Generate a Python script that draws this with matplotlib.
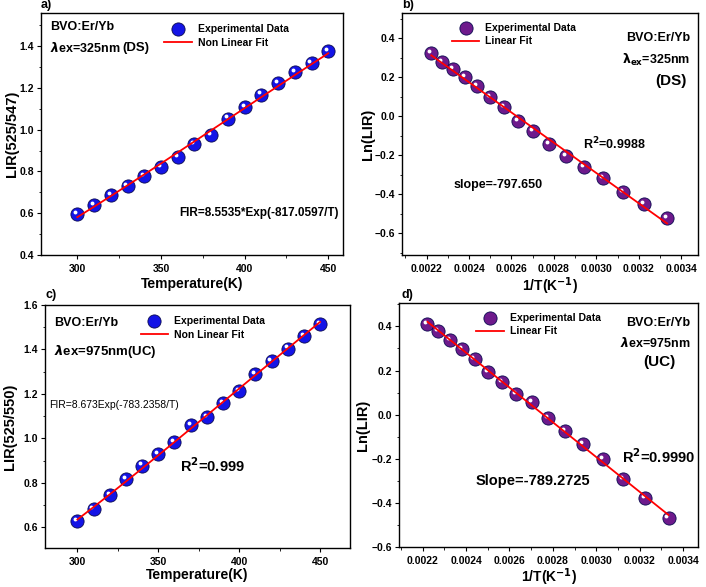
import numpy as np
import matplotlib
matplotlib.use('Agg')
import matplotlib.pyplot as plt
import matplotlib.transforms as mtransforms
from matplotlib.ticker import AutoMinorLocator, MultipleLocator

plt.rcParams['font.family'] = ['Liberation Sans', 'DejaVu Sans']
plt.rcParams['font.weight'] = 'bold'
plt.rcParams['axes.linewidth'] = 1.0

temps = [300, 310, 320, 330, 340, 350, 360, 370, 380, 390, 400, 410, 420, 430, 440, 450]
inv_t = [1.0 / t for t in temps]

# a) DS, LIR(525/547)
lir_ds = [0.596, 0.639, 0.685, 0.732, 0.777, 0.819, 0.870, 0.929, 0.976, 1.053, 1.106, 1.168, 1.223, 1.276, 1.319, 1.375]
# b) DS, ln(LIR), ordered by 1/T ascending (450 K first)
ln_ds = [0.323, 0.277, 0.243, 0.200, 0.156, 0.101, 0.050, -0.024, -0.075, -0.142, -0.202, -0.258, -0.315, -0.386, -0.451, -0.523]
# c) UC, LIR(525/550)
lir_uc = [0.628, 0.682, 0.747, 0.816, 0.878, 0.930, 0.985, 1.060, 1.095, 1.157, 1.214, 1.288, 1.348, 1.404, 1.462, 1.513]
# d) UC, ln(LIR)
ln_uc = [0.412, 0.380, 0.339, 0.297, 0.252, 0.194, 0.148, 0.092, 0.056, -0.014, -0.073, -0.133, -0.203, -0.294, -0.380, -0.468]

BLUE = '#1414e6'
PURPLE = '#6e1a8c'


def spheres(ax, x, y, color, label):
    ax.plot(x, y, 'o', ms=9.5, color=color, mec='#0a0a50', mew=0.6, zorder=3, label=label)
    off = mtransforms.ScaledTranslation(-1.5 / 72, 1.5 / 72, ax.figure.dpi_scale_trans)
    ax.plot(x, y, 'o', ms=2.8, color='white', mew=0, zorder=4, transform=ax.transData + off)


def style(ax, xlabel, ylabel, ylx, xpad=2):
    ax.set_xlabel(xlabel, fontsize=10, fontweight='bold', labelpad=xpad)
    ax.set_ylabel(ylabel, fontsize=10.5, fontweight='bold')
    ax.yaxis.set_label_coords(ylx, 0.5)
    ax.xaxis.set_minor_locator(AutoMinorLocator(2))
    ax.yaxis.set_minor_locator(AutoMinorLocator(2))
    ax.tick_params(which='major', direction='out', length=3, width=0.8, labelsize=7.5)
    ax.tick_params(axis='y', which='major', pad=2)
    ax.tick_params(which='minor', direction='out', length=1.8, width=0.6)
    for lab in ax.get_xticklabels() + ax.get_yticklabels():
        lab.set_fontweight('bold')


def legend(ax, loc):
    leg = ax.legend(loc='upper left', bbox_to_anchor=loc, frameon=False, fontsize=7.5,
                    handlelength=2.6, handletextpad=0.6, labelspacing=0.3, borderaxespad=0)
    return leg


fig = plt.figure(figsize=(7.06, 5.87), dpi=100)
W, H = 706, 587


def add_ax(l, t, r, b):
    return fig.add_axes([l / W, 1 - b / H, (r - l) / W, (b - t) / H])


# ---- a)
ax = add_ax(41, 13, 343, 255)
b_, a_ = np.polyfit(1 / np.array(temps), np.log(lir_ds), 1)
spheres(ax, temps, lir_ds, BLUE, 'Experimental Data')
ax.plot(temps, np.exp(a_ + b_ / np.array(temps)), color='red', lw=1.3, zorder=5, label='Non Linear Fit')
ax.set_xlim(278.3, 458.8)
ax.set_ylim(0.4, 1.558)
ax.xaxis.set_major_locator(MultipleLocator(50))
ax.yaxis.set_major_locator(MultipleLocator(0.2))
style(ax, 'Temperature(K)', 'LIR(525/547)', -0.073)
legend(ax, (0.395, 0.97))
ax.text(0.03, 0.942, 'BVO:Er/Yb', transform=ax.transAxes, fontsize=9, fontweight='bold', va='center')
ax.text(0.03, 0.855, r'$\lambda$ex=325nm', transform=ax.transAxes, fontsize=9, fontweight='bold', va='center')
ax.text(0.268, 0.857, '(DS)', transform=ax.transAxes, fontsize=9.5, fontweight='bold', va='center')
ax.text(0.985, 0.174, 'FIR=8.5535*Exp(-817.0597/T)', transform=ax.transAxes, fontsize=8.5,
        fontweight='bold', ha='right', va='center')
fig.text(41 / W, 1 - 5 / H, 'a)', fontsize=9, fontweight='bold', va='center')

# ---- b)
ax = add_ax(402, 13, 698, 255)
k, c0 = np.polyfit(inv_t[::-1], ln_ds, 1)
xs = np.array(sorted(inv_t))
spheres(ax, xs, ln_ds, PURPLE, 'Experimental Data')
ax.plot(xs, k * xs + c0, color='red', lw=1.3, zorder=5, label='Linear Fit')
ax.set_xlim(0.002084, 0.003479)
ax.set_ylim(-0.711, 0.53)
ax.xaxis.set_major_locator(MultipleLocator(0.0002))
ax.yaxis.set_major_locator(MultipleLocator(0.2))
style(ax, r'1/T(K$^{\mathbf{-1}}$)', 'Ln(LIR)', -0.091, xpad=1)
legend(ax, (0.155, 0.975))
ax.text(0.975, 0.895, 'BVO:Er/Yb', transform=ax.transAxes, fontsize=9, fontweight='bold', ha='right', va='center')
ax.text(0.975, 0.805, r'$\mathbf{\lambda_{ex}}$=325nm', transform=ax.transAxes, fontsize=9, fontweight='bold',
        ha='right', va='center')
ax.text(0.96, 0.72, '(DS)', transform=ax.transAxes, fontsize=11, fontweight='bold', ha='right', va='center')
ax.text(0.61, 0.46, r'R$^{\mathbf{2}}$=0.9988', transform=ax.transAxes, fontsize=9, fontweight='bold', va='center')
ax.text(0.175, 0.29, 'slope=-797.650', transform=ax.transAxes, fontsize=9, fontweight='bold', va='center')
fig.text(402 / W, 1 - 5 / H, 'b)', fontsize=9, fontweight='bold', va='center')

# ---- c)
ax = add_ax(45, 305, 350, 548)
b_, a_ = np.polyfit(1 / np.array(temps), np.log(lir_uc), 1)
spheres(ax, temps, lir_uc, BLUE, 'Experimental Data')
ax.plot(temps, np.exp(a_ + b_ / np.array(temps)), color='red', lw=1.3, zorder=5, label='Non Linear Fit')
ax.set_xlim(280, 468.5)
ax.set_ylim(0.507, 1.6)
ax.xaxis.set_major_locator(MultipleLocator(50))
ax.yaxis.set_major_locator(MultipleLocator(0.2))
style(ax, 'Temperature(K)', 'LIR(525/550)', -0.092, xpad=1)
legend(ax, (0.30, 0.97))
ax.text(0.03, 0.926, 'BVO:Er/Yb', transform=ax.transAxes, fontsize=9, fontweight='bold', va='center')
ax.text(0.03, 0.81, r'$\lambda$ex=975nm(UC)', transform=ax.transAxes, fontsize=9.5, fontweight='bold', va='center')
ax.text(0.015, 0.59, 'FIR=8.673Exp(-783.2358/T)', transform=ax.transAxes, fontsize=7.5,
        fontweight='normal', va='center')
ax.text(0.443, 0.337, r'R$^{\mathbf{2}}$=0.999', transform=ax.transAxes, fontsize=10.5, fontweight='bold', va='center')
fig.text(45 / W, 1 - 295 / H, 'c)', fontsize=9, fontweight='bold', va='center')

# ---- d)
ax = add_ax(399, 303, 698, 547)
k, c0 = np.polyfit(inv_t[::-1], ln_uc, 1)
spheres(ax, xs, ln_uc, PURPLE, 'Experimental Data')
ax.plot(xs, k * xs + c0, color='red', lw=1.3, zorder=5, label='Linear Fit')
ax.set_xlim(0.002091, 0.003469)
ax.set_ylim(-0.6, 0.506)
ax.xaxis.set_major_locator(MultipleLocator(0.0002))
ax.yaxis.set_major_locator(MultipleLocator(0.2))
style(ax, r'1/T(K$^{\mathbf{-1}}$)', 'Ln(LIR)', -0.097, xpad=0)
legend(ax, (0.245, 0.975))
ax.text(0.975, 0.918, 'BVO:Er/Yb', transform=ax.transAxes, fontsize=9, fontweight='bold', ha='right', va='center')
ax.text(0.975, 0.836, r'$\lambda$ex=975nm', transform=ax.transAxes, fontsize=9, fontweight='bold',
        ha='right', va='center')
ax.text(0.87, 0.758, '(UC)', transform=ax.transAxes, fontsize=11, fontweight='bold', ha='center', va='center')
ax.text(0.745, 0.37, r'R$^{\mathbf{2}}$=0.9990', transform=ax.transAxes, fontsize=10.5, fontweight='bold', va='center')
ax.text(0.255, 0.27, 'Slope=-789.2725', transform=ax.transAxes, fontsize=10.5, fontweight='bold', va='center')
fig.text(402 / W, 1 - 295 / H, 'd)', fontsize=9, fontweight='bold', va='center')

fig.savefig('out.png', dpi=100)
